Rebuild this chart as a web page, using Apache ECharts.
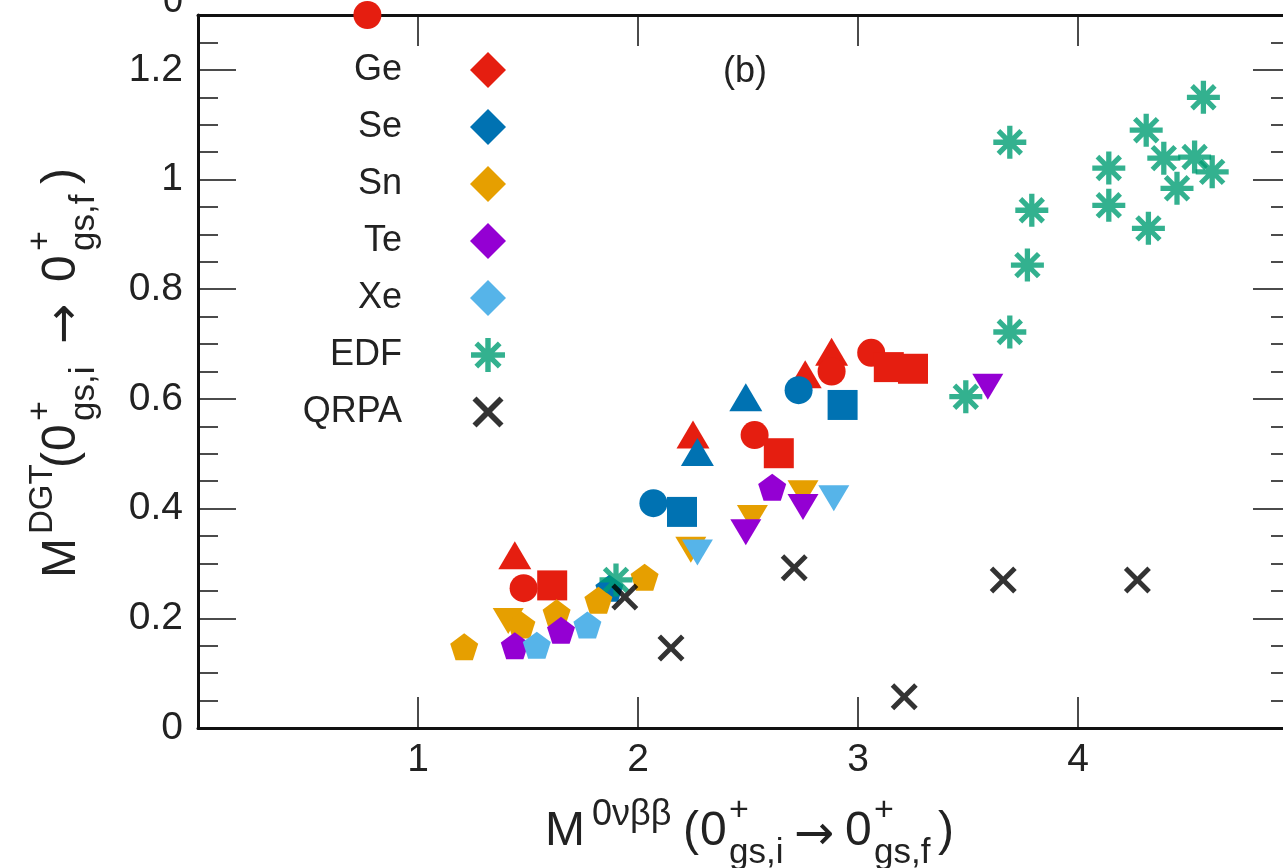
<!DOCTYPE html>
<html><head><meta charset="utf-8">
<script src="https://cdn.jsdelivr.net/npm/echarts@6/dist/echarts.min.js"></script>
<style>html,body{margin:0;padding:0;background:#fff}#c{width:1283px;height:868px}</style>
</head><body><div id="c"></div>
<script>
// shape codes: o circle, s square, u triangle up, d triangle down, p pentagon
const GE = [[0.77,1.30,'o'],[1.44,0.315,'u'],[1.48,0.255,'o'],[1.61,0.26,'s'],[2.25,0.535,'u'],[2.53,0.534,'o'],[2.64,0.501,'s'],[2.76,0.645,'u'],[2.88,0.686,'u'],[2.88,0.65,'o'],[3.06,0.684,'o'],[3.14,0.658,'s'],[3.25,0.655,'s']];
const SE = [[1.87,0.255,'p'],[2.07,0.41,'o'],[2.20,0.394,'s'],[2.27,0.503,'u'],[2.49,0.603,'u'],[2.73,0.616,'o'],[2.93,0.589,'s']];
const SN = [[1.21,0.148,'p'],[1.41,0.195,'d'],[1.47,0.188,'p'],[1.63,0.21,'p'],[1.82,0.233,'p'],[2.03,0.275,'p'],[2.24,0.325,'d'],[2.52,0.383,'d'],[2.75,0.428,'d']];
const TE = [[1.44,0.15,'p'],[1.65,0.178,'p'],[2.49,0.357,'d'],[2.61,0.439,'p'],[2.75,0.403,'d'],[3.59,0.622,'d']];
const XE = [[1.54,0.151,'p'],[1.77,0.188,'p'],[2.27,0.32,'d'],[2.89,0.419,'d']];
const EDF = [[1.90,0.27],[3.49,0.604],[3.69,0.722],[3.77,0.844],[3.79,0.944],[3.69,1.068],[4.14,1.021],[4.14,0.953],[4.32,0.911],[4.31,1.09],[4.39,1.039],[4.53,1.041],[4.45,0.984],[4.61,1.014],[4.57,1.15]];
const QRPA = [[1.94,0.239],[2.15,0.146],[2.71,0.292],[3.21,0.057],[3.66,0.27],[4.27,0.27]];
const X_TICKS = [0,1,2,3,4,5];
const Y_TICKS = [0,0.2,0.4,0.6,0.8,1,1.2];

const FONT = 'Liberation Sans, Arial, Helvetica, sans-serif';
const AFONT = 'DejaVu Sans, sans-serif';
const AST_BODY = 'M0,42L100,42L100,58L0,58Z M42,0L58,0L58,100L42,100Z M21,10L90,79L79,90L10,21Z M79,10L90,21L21,90L10,79Z';
const X_BODY = 'M13,0L50,37L87,0L100,13L63,50L100,87L87,100L50,63L13,100L0,87L37,50L0,13Z';
const AST = 'path://' + AST_BODY;
const XS = 'path://' + X_BODY;
// legend icons: same shapes with empty margin so they draw a little smaller in the 36px legend box
const AST_L = 'path://M-3,-3 ' + AST_BODY + ' M103,103';
const XS_L = 'path://M-8,-8 ' + X_BODY + ' M108,108';
const SYM = {o:'circle', s:'rect', u:'path://M50,0L100,87L0,87Z', d:'path://M0,0L100,0L50,87Z', p:'path://M50,0L100,36.3L80.9,95.1L19.1,95.1L0,36.3Z'};
const SIZE = {o:28, s:30, u:[33,28], d:[31,26], p:[28,27]};

function nuc(name, data, color){
  return {type:'scatter', name:name, data:data, clip:false,
    symbol:function(v){return SYM[v[2]];},
    symbolSize:function(v){return SIZE[v[2]];},
    itemStyle:{color:color, opacity:1}, emphasis:{disabled:true}};
}
const series = [
  nuc('Ge', GE, '#e51e10'),
  nuc('Se', SE, '#0072b2'),
  nuc('Sn', SN, '#e69f00'),
  nuc('Te', TE, '#9400d3'),
  nuc('Xe', XE, '#56b4e9'),
  {type:'scatter', name:'EDF', data:EDF, symbol:AST, symbolSize:33, itemStyle:{color:'#009e73'}, emphasis:{disabled:true}},
  {type:'scatter', name:'QRPA', data:QRPA, symbol:XS, symbolSize:27, itemStyle:{color:'#000'}, emphasis:{disabled:true}}
];

const lineC = '#111';
function xAx(pos, showLabel){
  return {type:'value', min:X_TICKS[0], max:X_TICKS[X_TICKS.length-1], interval:1, position:pos,
    axisLine:{show:true, onZero:false, lineStyle:{color:lineC, width:3}},
    axisTick:{show:true, inside:true, length:31, lineStyle:{color:lineC, width:1.5}},
    axisLabel:{show:showLabel, showMinLabel:false, showMaxLabel:false, fontSize:39, color:'#222', fontFamily:FONT, margin:13},
    splitLine:{show:false}};
}
function yAx(pos, interval, len, showLine, showLabel){
  return {type:'value', min:Y_TICKS[0], max:1.3, interval:interval, position:pos,
    axisLine:{show:showLine, onZero:false, lineStyle:{color:lineC, width:3}},
    axisTick:{show:true, inside:true, length:len, lineStyle:{color:lineC, width:1.5}},
    axisLabel:{show:showLabel, showMaxLabel:false, fontSize:39, color:'#222', fontFamily:FONT, margin:15},
    splitLine:{show:false}};
}

function t(x, y, text, size, family){
  return {type:'text', x:x, y:y, silent:true,
    style:{text:text, fontSize:size, fontFamily:family||FONT, fill:'#222', align:'left', verticalAlign:'middle'}};
}
const xTitle = [
  t(545,832,'M',48), t(592,815,'0νββ',36), t(683,832,'(',48), t(700,832,'0',48),
  t(729,811,'+',34), t(729,853,'gs,i',35), t(794,837,'→',48,AFONT), t(845,832,'0',48),
  t(874,811,'+',34), t(874,853,'gs,f',35), t(938,832,')',48)
];
const yTitleChildren = [
  t(0,0,'M',48), t(44,-19,'DGT',33), t(110,0,'(',48), t(127,0,'0',48),
  t(157,-21,'+',34), t(157,22,'gs,i',35), t(234,5,'→',48,AFONT), t(296,0,'0',48),
  t(327,-21,'+',34), t(327,22,'gs,f',35), t(394,0,')',48)
];
function ct(x, y, text, align){
  return {type:'text', x:x, y:y, silent:true,
    style:{text:text, fontSize:36, fontFamily:FONT, fill:'#222', align:align, verticalAlign:'middle'}};
}

const chart = echarts.init(document.getElementById('c'), null, {renderer:'canvas'});
chart.setOption({
  animation:false,
  backgroundColor:'#fff',
  grid:{left:198, top:15, width:1100, height:713, containLabel:false, outerBoundsMode:'none'},
  xAxis:[xAx('bottom', true), xAx('top', false)],
  yAxis:[yAx('left',0.2,38,true,true), yAx('left',0.05,20,false,false), yAx('right',0.2,45,true,false), yAx('right',0.05,27,false,false)],
  legend:{orient:'vertical', align:'right', right:777, top:52, padding:0, itemWidth:36, itemHeight:36, itemGap:21,
    selectedMode:false,
    textStyle:{fontSize:36, color:'#222', fontFamily:FONT, padding:[0,63,0,0], lineHeight:36},
    data:[{name:'Ge',icon:'diamond'},{name:'Se',icon:'diamond'},{name:'Sn',icon:'diamond'},{name:'Te',icon:'diamond'},{name:'Xe',icon:'diamond'},{name:'EDF',icon:AST_L},{name:'QRPA',icon:XS_L}]},
  graphic:[ct(745,72,'(b)','center'), ct(183,2,'0','right')]
    .concat(xTitle).concat([{type:'group', x:62, y:578, rotation:Math.PI/2, children:yTitleChildren}]),
  series:series
});
</script>
</body></html>
